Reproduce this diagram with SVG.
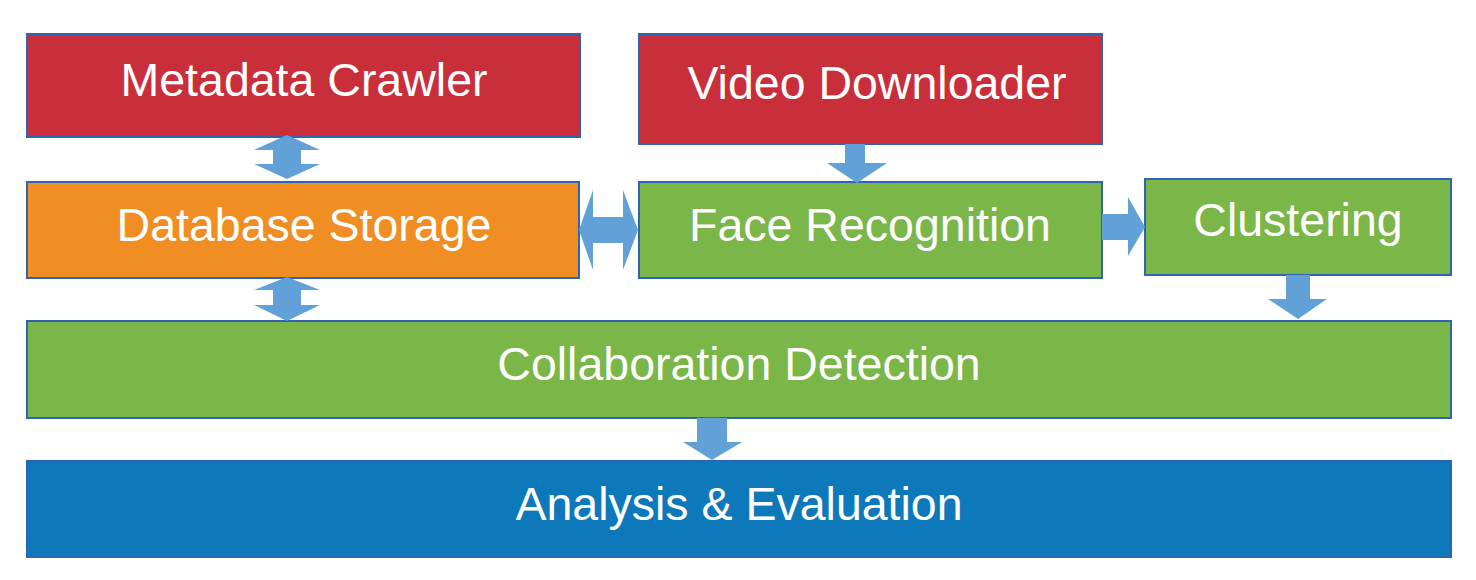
<svg xmlns="http://www.w3.org/2000/svg" width="1476" height="580" viewBox="0 0 1476 580">
<style>
.box{stroke:#2F64B4;stroke-width:2}
.red{fill:#C92E3B}
.orange{fill:#F08E24}
.green{fill:#7AB648}
.blue{fill:#0E79BA}
.lbl{font-family:"Liberation Sans",Arial,sans-serif;font-size:46.5px;fill:#FFFFFF;text-anchor:middle}
.arr{fill:#62A0D8;stroke:none}
</style>
<rect width="1476" height="580" fill="#FFFFFF"/>
<g id="metadata-crawler"><rect class="box red" x="27" y="34" width="553" height="103"/><text class="lbl" x="304" y="96">Metadata Crawler</text></g>
<g id="video-downloader"><rect class="box red" x="639" y="34" width="463" height="110"/><text class="lbl" x="877" y="99">Video Downloader</text></g>
<g id="database-storage"><rect class="box orange" x="27" y="182" width="552" height="96"/><text class="lbl" x="304" y="241">Database Storage</text></g>
<g id="face-recognition"><rect class="box green" x="639" y="182" width="463" height="96"/><text class="lbl" x="870" y="241">Face Recognition</text></g>
<g id="clustering"><rect class="box green" x="1145" y="179" width="306" height="96"/><text class="lbl" x="1298" y="236">Clustering</text></g>
<g id="collaboration-detection"><rect class="box green" x="27" y="321" width="1424" height="97"/><text class="lbl" x="739" y="380">Collaboration Detection</text></g>
<g id="analysis-evaluation"><rect class="box blue" x="27" y="461" width="1424" height="96"/><text class="lbl" x="739" y="520">Analysis &amp; Evaluation</text></g>
<g id="connectors">
<polygon class="arr" points="287,135 320,150 301,150 301,164 320,164 287,179 254,164 273,164 273,150 254,150"/>
<polygon class="arr" points="287,277 320,290 301,290 301,305 320,305 287,321 254,305 273,305 273,290 254,290"/>
<polygon class="arr" points="579,230 593,190 593,217 623,217 623,190 638,230 623,270 623,243 593,243 593,270"/>
<polygon class="arr" points="845,144 865,144 865,163 887,163 857,183 827,163 845,163"/>
<polygon class="arr" points="1102,214 1128,214 1128,197 1145,227 1128,256 1128,240 1102,240"/>
<polygon class="arr" points="1286,275 1310,275 1310,299 1327,299 1298,319 1268,299 1286,299"/>
<polygon class="arr" points="697,418 727,418 727,442 742,442 712,460 683,442 697,442"/>
</g>
</svg>
